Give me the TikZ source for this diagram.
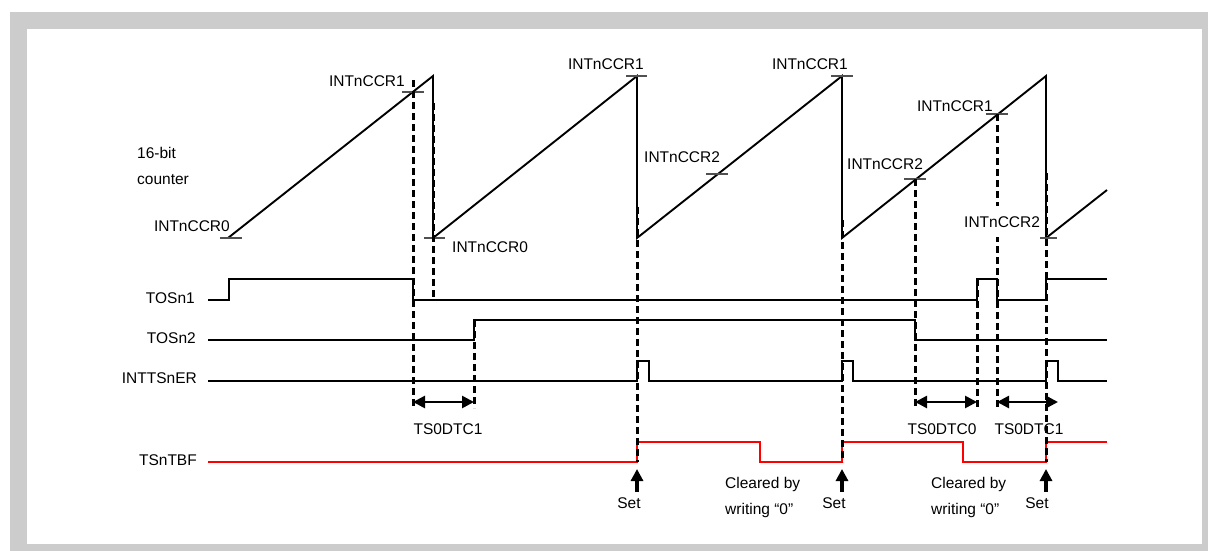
\documentclass[tikz,border=0pt]{standalone}
\usepackage{fontspec}
\setmainfont{Liberation Sans}
\usepackage{tikz}
\usetikzlibrary{arrows.meta}
\usepackage{xcolor}
\definecolor{frameGray}{HTML}{CCCCCC}
\definecolor{flagRed}{HTML}{FF0000}
\definecolor{tickGray}{HTML}{505050}

\begin{document}
\begin{tikzpicture}[
    x=1pt, y=-1pt,
    font=\fontsize{15.5}{18}\selectfont,
    sig/.style={line width=1.9pt},
    guide/.style={line width=3pt, dash pattern=on 7pt off 4pt},
    tick/.style={line width=1.2pt, tickGray},
    dim/.style={line width=2.6pt,
                {Triangle[length=12pt,width=12pt]}-{Triangle[length=12pt,width=12pt]}},
    setarr/.style={line width=3.5pt, -{Triangle[length=12pt,width=12pt]}},
    lbl/.style={inner sep=0pt, anchor=base east},
    lblr/.style={inner sep=0pt, anchor=base west},
    lblc/.style={inner sep=0pt, anchor=base}
  ]
  \useasboundingbox (0,0) rectangle (1208,551);
  % frame
  \fill[frameGray] (10,12) rectangle (1208,551);
  \fill[white] (27,29) rectangle (1202,544);

  % 16-bit counter
  \draw[sig] (228,238) -- (433,76) -- (433,238) -- (637,76) -- (637,238)
    -- (842,76) -- (842,238) -- (1046,76) -- (1046,238) -- (1107,190);
  \draw[tick] (220,238) -- (242,238);
  \draw[tick] (402,92) -- (424,92);
  \draw[tick] (424,238) -- (445,238);
  \draw[tick] (626,76) -- (647,76);
  \draw[tick] (706,174) -- (728,174);
  \draw[tick] (831,76) -- (853,76);
  \draw[tick] (904,179) -- (926,179);
  \draw[tick] (986,114) -- (1008,114);
  \draw[tick] (1040,238) -- (1057,238);

  \node[lblr] (cntA) at (137,158) {16-bit};
  \node[lblr] (cntB) at (137,184) {counter};
  \node[lbl] (ccr0a) at (230,231) {INTnCCR0};
  \node[lbl] (ccr1a) at (405,86) {INTnCCR1};
  \node[lblr] (ccr0b) at (452,252) {INTnCCR0};
  \node[lbl] (ccr1b) at (644,70) {INTnCCR1};
  \node[lblr] (ccr2a) at (644,162) {INTnCCR2};
  \node[lbl] (ccr1c) at (848,70) {INTnCCR1};
  \node[lblr] (ccr2b) at (847,169) {INTnCCR2};
  \node[lbl] (ccr1d) at (993,111) {INTnCCR1};

  % signals
  \node[lbl] (tos1) at (195,303) {TOSn1};
  \node[lbl] (tos2) at (196,343) {TOSn2};
  \node[lbl] (inttser) at (197,383) {INTTSnER};
  \node[lbl] (tbf) at (197,465) {TSnTBF};

  \draw[sig] (208,300) -- (229,300) -- (229,279) -- (413,279) -- (413,300)
    -- (977,300) -- (977,279) -- (997,279) -- (997,300) -- (1046,300)
    -- (1046,279) -- (1107,279);
  \draw[sig] (208,340) -- (474,340) -- (474,320) -- (915,320) -- (915,340)
    -- (1107,340);
  \draw[sig] (208,381) -- (637,381) -- (637,361) -- (649,361) -- (649,381)
    -- (842,381) -- (842,361) -- (853,361) -- (853,381) -- (1046,381)
    -- (1046,361) -- (1058,361) -- (1058,381) -- (1107,381);
  \draw[sig, flagRed] (208,462) -- (637,462) -- (637,442) -- (760,442)
    -- (760,462) -- (842,462) -- (842,442) -- (963,442) -- (963,462)
    -- (1046,462) -- (1046,442) -- (1107,442);

  % dashed guides
  \draw[guide] (413,80) -- (413,408);
  \draw[guide] (433,103) -- (433,300);
  \draw[guide] (474,320) -- (474,408);
  \draw[guide] (637,207) -- (637,462);
  \draw[guide] (842,220) -- (842,462);
  \draw[guide] (915,179) -- (915,408);
  \draw[guide] (977,279) -- (977,408);
  \draw[guide] (997,114) -- (997,408);
  \draw[guide] (1046,173) -- (1046,462);
  \node[lblr, fill=white, inner ysep=10pt, inner xsep=1pt] (ccr2c) at (963,227) {INTnCCR2};

  % dead times
  \coordinate (dtA1) at (413,402);
  \coordinate (dtA2) at (474,402);
  \coordinate (dtB1) at (915,402);
  \coordinate (dtB2) at (977,402);
  \coordinate (dtC1) at (997,402);
  \coordinate (dtC2) at (1058,402);
  \draw[dim] (dtA1) -- (dtA2);
  \draw[dim] (dtB1) -- (dtB2);
  \draw[dim] (dtC1) -- (dtC2);
  \node[lblc] (dtcA) at (448,434) {TS0DTC1};
  \node[lblc] (dtcB) at (942,434) {TS0DTC0};
  \node[lblc] (dtcC) at (1029,434) {TS0DTC1};

  % set / clear
  \coordinate (setA) at (637,469);
  \coordinate (setB) at (842,469);
  \coordinate (setC) at (1046,469);
  \draw[setarr] (637,492) -- (setA);
  \draw[setarr] (842,492) -- (setB);
  \draw[setarr] (1046,492) -- (setC);
  \node[lblc] (setTxtA) at (629,508) {Set};
  \node[lblc] (setTxtB) at (834,508) {Set};
  \node[lblc] (setTxtC) at (1037,508) {Set};
  \node[lblr] (clrA1) at (725,488) {Cleared by};
  \node[lblr] (clrA2) at (725,514) {writing “0”};
  \node[lblr] (clrB1) at (931,488) {Cleared by};
  \node[lblr] (clrB2) at (931,514) {writing “0”};
\end{tikzpicture}
\end{document}
